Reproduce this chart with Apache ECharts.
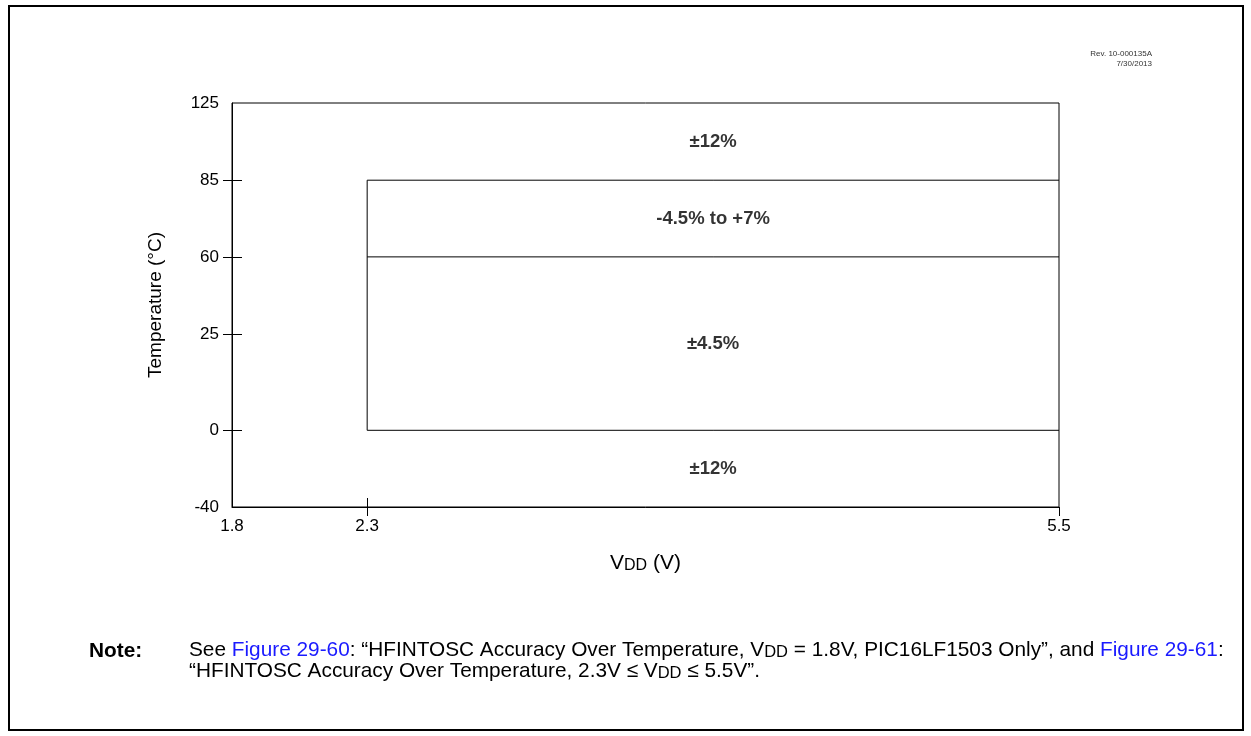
<!DOCTYPE html>
<html><head><meta charset="utf-8">
<script src="https://cdn.jsdelivr.net/npm/echarts@6/dist/echarts.min.js"></script>
<style>html,body{margin:0;padding:0;background:#fff}#c{width:1251px;height:736px}</style>
</head><body><div id="c"></div>
<script>
// ---- data ----
const yTickLabels = [-40, 0, 25, 60, 85, 125];          // Temperature (°C) ticks
const xTickLabels = [1.8, 2.3, 5.5];                     // VDD (V) ticks
const yTickMarks = [0, 25, 60, 85];                      // ticks drawn across the y axis
const xTickMarksOut = [2.3, 5.5];
const xTickMarksIn = [1.8, 2.3];
// the source axes are not linear: axis units for each tick
const yScaleStops = [0, 76.5, 172.5, 249.5, 326, 403];
const xScaleStops = [0, 135, 826];

const bandLabels = ['±12%', '-4.5% to +7%', '±4.5%', '±12%'];
const bandTempLow = [85, 60, 0, -40];
const bandTempHigh = [125, 85, 60, 0];
const bandVdd = [2.3, 5.5];

const boxVdd = [2.3, 5.5];      // specified region
const boxTemps = [0, 60, 85];   // region boundaries

// ---- scale helpers ----
function interp(v, ticks, stops) {
  for (let i = 0; i < ticks.length - 1; i++) {
    if (v >= ticks[i] && v <= ticks[i + 1]) {
      return stops[i] + (v - ticks[i]) / (ticks[i + 1] - ticks[i]) * (stops[i + 1] - stops[i]);
    }
  }
  return v < ticks[0] ? stops[0] : stops[stops.length - 1];
}
const px = v => interp(v, xTickLabels, xScaleStops);
const py = v => interp(v, yTickLabels, yScaleStops);
function labelAt(val, stops, labels, fmt) {
  for (let i = 0; i < stops.length; i++) if (Math.abs(stops[i] - val) < 0.01) return fmt(labels[i]);
  return '';
}

const polylines = [
  { coords: [[px(boxVdd[0]), py(boxTemps[0])], [px(boxVdd[0]), py(boxTemps[2])], [px(boxVdd[1]), py(boxTemps[2])]] },
  { coords: [[px(boxVdd[0]), py(boxTemps[1])], [px(boxVdd[1]), py(boxTemps[1])]] },
  { coords: [[px(boxVdd[0]), py(boxTemps[0])], [px(boxVdd[1]), py(boxTemps[0])]] }
];
const labelPts = bandLabels.map((t, i) => ({
  name: t,
  value: [(px(bandVdd[0]) + px(bandVdd[1])) / 2, (py(bandTempLow[i]) + py(bandTempHigh[i])) / 2]
}));

const FONT = 'Liberation Sans, Arial, sans-serif';
const NOTE_FS = 20.8;
const chart = echarts.init(document.getElementById('c'), null, { renderer: 'canvas' });
const xMax = xScaleStops[xScaleStops.length - 1];
const yMax = yScaleStops[yScaleStops.length - 1];
const gridBox = { left: 232, top: 103, right: 192, bottom: 229, outerBoundsMode: 'none', containLabel: false };

chart.setOption({
  animation: false,
  backgroundColor: '#fff',
  grid: [
    Object.assign({ show: true, borderColor: '#000', borderWidth: 1, backgroundColor: 'transparent' }, gridBox),
    Object.assign({ show: false }, gridBox)
  ],
  xAxis: [{
    gridIndex: 0, type: 'value', min: 0, max: xMax, position: 'bottom', splitLine: { show: false },
    axisLine: { show: true, onZero: false, lineStyle: { color: '#000', width: 1 } },
    axisTick: { show: true, inside: false, length: 9, lineStyle: { color: '#000' }, customValues: xTickMarksOut.map(px) },
    axisLabel: { show: true, margin: 11, color: '#000', fontSize: 17, fontFamily: FONT,
      customValues: xTickLabels.map(px),
      formatter: v => labelAt(v, xScaleStops, xTickLabels, x => x.toFixed(1)) },
    name: '{n|V}{s|DD}{n| (V)}', nameLocation: 'middle', nameGap: 46, nameMoveOverlap: false,
    nameTextStyle: { color: '#000', fontFamily: FONT, fontSize: 21,
      rich: { n: { fontSize: 21, fontFamily: FONT, color: '#000', verticalAlign: 'bottom' },
              s: { fontSize: 16, fontFamily: FONT, color: '#000', verticalAlign: 'bottom' } } }
  }, {
    gridIndex: 1, type: 'value', min: 0, max: xMax, position: 'bottom', splitLine: { show: false },
    axisLine: { show: false, onZero: false },
    axisTick: { show: true, inside: true, length: 9, lineStyle: { color: '#000', width: 1 }, customValues: xTickMarksIn.map(px) },
    axisLabel: { show: true, color: 'rgba(0,0,0,0)', formatter: () => '', customValues: xTickMarksIn.map(px) }
  }],
  yAxis: [{
    gridIndex: 0, type: 'value', min: 0, max: yMax, position: 'left', splitLine: { show: false },
    axisLine: { show: true, onZero: false, lineStyle: { color: '#000', width: 1 } },
    axisTick: { show: true, inside: false, length: 9, lineStyle: { color: '#000' }, customValues: yTickMarks.map(py) },
    axisLabel: { show: true, margin: 13, color: '#000', fontSize: 17, fontFamily: FONT,
      customValues: yTickLabels.map(py),
      formatter: v => labelAt(v, yScaleStops, yTickLabels, t => String(t)) },
    name: 'Temperature (°C)', nameLocation: 'middle', nameGap: 67, nameMoveOverlap: false,
    nameTextStyle: { color: '#000', fontFamily: FONT, fontSize: 19 }
  }, {
    gridIndex: 1, type: 'value', min: 0, max: yMax, position: 'left', splitLine: { show: false },
    axisLine: { show: false, onZero: false },
    axisTick: { show: true, inside: true, length: 10, lineStyle: { color: '#000', width: 1 }, customValues: yTickMarks.map(py) },
    axisLabel: { show: true, color: 'rgba(0,0,0,0)', formatter: () => '', customValues: yTickMarks.map(py) }
  }],
  series: [{
    type: 'lines', coordinateSystem: 'cartesian2d', xAxisIndex: 0, yAxisIndex: 0, polyline: true,
    silent: true, lineStyle: { color: '#000', width: 1, opacity: 1 }, data: polylines
  }, {
    type: 'scatter', xAxisIndex: 0, yAxisIndex: 0, symbolSize: 0, silent: true,
    label: { show: true, position: 'inside', formatter: p => p.name, color: '#000', fontWeight: 'bold', fontSize: 18.5, fontFamily: FONT },
    data: labelPts
  }, {
    type: 'scatter', xAxisIndex: 1, yAxisIndex: 1, symbolSize: 0, silent: true, data: [[0, 0]]
  }],
  graphic: [
    { type: 'rect', shape: { x: 9, y: 6, width: 1234, height: 724 }, style: { fill: 'none', stroke: '#000', lineWidth: 2 }, silent: true },
    { type: 'text', x: 1152, y: 54, style: { text: 'Rev. 10-000135A', fill: '#333', font: '8px ' + FONT, align: 'right', verticalAlign: 'middle' } },
    { type: 'text', x: 1152, y: 63.5, style: { text: '7/30/2013', fill: '#333', font: '8px ' + FONT, align: 'right', verticalAlign: 'middle' } },
    { type: 'text', x: 89, y: 651, style: { text: 'Note:', fill: '#000', font: 'bold ' + NOTE_FS + 'px ' + FONT, verticalAlign: 'middle' } },
    { type: 'text', x: 189, y: 640, style: {
      text: '{n|See }{l|Figure 29-60}{n|: “HFINTOSC Accuracy Over Temperature, V}{s|DD}{n| = 1.8V, PIC16LF1503 Only”, and }{l|Figure 29-61}{n|:}\n{n|“HFINTOSC Accuracy Over Temperature, 2.3V ≤ V}{s|DD}{n| ≤ 5.5V”.}',
      verticalAlign: 'top',
      rich: {
        n: { fontSize: NOTE_FS, fontFamily: FONT, fill: '#000', color: '#000', lineHeight: 21, verticalAlign: 'bottom' },
        l: { fontSize: NOTE_FS, fontFamily: FONT, fill: '#1a1aff', color: '#1a1aff', lineHeight: 21, verticalAlign: 'bottom' },
        s: { fontSize: 16.5, fontFamily: FONT, fill: '#000', color: '#000', lineHeight: 21, verticalAlign: 'bottom' }
      } } }
  ]
});
</script></body></html>
